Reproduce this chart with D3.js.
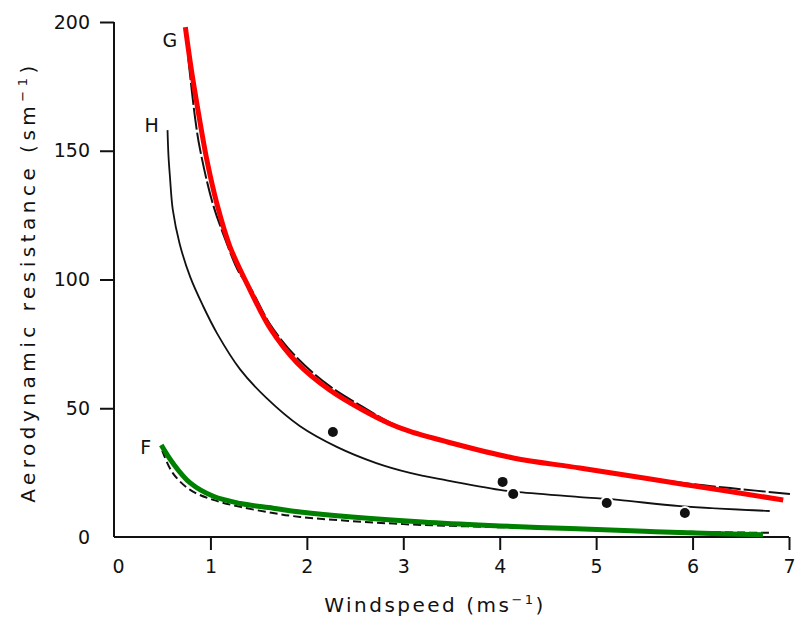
<!DOCTYPE html>
<html>
<head>
<meta charset="utf-8">
<script src="https://cdn.jsdelivr.net/npm/d3@7"></script>
<style>
  body { margin: 0; background: #fff; }
  svg text { font-family: "DejaVu Sans", sans-serif; fill: #111; }
</style>
</head>
<body>
<svg id="chart" width="796" height="625"></svg>
<script>
// Aerodynamic resistance (s m^-1) against windspeed (m s^-1)
const xTicks = [0, 1, 2, 3, 4, 5, 6, 7];
const yTicks = [0, 50, 100, 150, 200];

// Curve G, original black trace
const gBlack = [[0.77,186],[0.84,163],[0.89,151],[1.02,130],[1.15,116],[1.3,102.5],[1.41,97],[1.62,82.5],[1.9,69.5],[2.24,58.5],[2.58,50.5],[2.86,44.5],[3.07,41.3],[3.45,37.2],[4.14,31],[4.83,27],[5.9,21],[6.39,19],[7.01,16.7]];
// Curve G, red overlay
const gRed = [[0.74,198],[0.8,182],[0.87,166],[0.96,147],[1.07,129],[1.2,113],[1.41,96],[1.62,81],[1.9,67.6],[2.24,57],[2.58,49.3],[2.86,44],[3.07,41],[3.45,37],[4.14,30.7],[4.83,26.8],[5.9,20.5],[6.94,14.4]];
// Curve H
const hLine = [[0.555,158],[0.565,148],[0.58,140],[0.61,127],[0.68,114],[0.79,101],[0.92,90],[1.07,79],[1.31,65],[1.58,54],[1.93,43],[2.31,35],[2.72,28.7],[3.07,24.9],[3.45,22],[4.0,18.3],[4.2,17.4],[4.83,15.5],[5.23,14.4],[5.87,12.0],[6.8,10.1]];
// Curve F, black dashed trace
const fDashed = [[0.5,33.5],[0.61,24.8],[0.79,18.3],[1.03,14.4],[1.31,11.7],[1.65,9.3],[1.93,7.8],[3.0,5],[4.0,3.8],[5.0,2.8],[6.0,2],[6.8,1.6]];
// Curve F, green overlay
const fGreen = [[0.49,35.7],[0.61,28.7],[0.79,21],[1.03,15.8],[1.31,13],[1.65,11.2],[1.93,9.7],[3.2,5.8],[4.0,4.3],[4.73,3.3],[5.5,2.2],[6.2,1.4],[6.73,0.9]];
// Measured points
const obs = [[2.27,40.8],[4.03,21.4],[4.14,16.7],[5.11,13.2],[5.92,9.3]];
// Curve labels
const curveLabels = [["G",0.58,193],["H",0.39,160],["F",0.33,35]];

const svg = d3.select("#chart");
const x = d3.scaleLinear().domain([0, 7]).range([114, 789]);
const y = d3.scaleLinear().domain([0, 200]).range([537, 22]);

// Axes
const xAxis = svg.append("g").attr("transform", "translate(0,537)")
  .call(d3.axisBottom(x).tickValues(xTicks).tickSize(13).tickPadding(10).tickFormat(d3.format("d")));
const yAxis = svg.append("g").attr("transform", "translate(114,0)")
  .call(d3.axisLeft(y).tickValues(yTicks).tickSize(14).tickPadding(10).tickFormat(d3.format("d")));
[xAxis, yAxis].forEach(g => {
  g.select(".domain").attr("stroke", "#111").attr("stroke-width", 2);
  g.selectAll(".tick line").attr("stroke", "#111").attr("stroke-width", 2);
  g.selectAll(".tick text").style("font-size", "19px").attr("fill", "#111");
});
xAxis.select(".domain").attr("d", `M${x(0)},0H${x(7)}`);
yAxis.select(".domain").attr("d", `M0,${y(0)}V${y(200)}`);
xAxis.selectAll(".tick").filter(d => d === 0).select("line").remove();
xAxis.selectAll(".tick").filter(d => d === 0).select("text").attr("x", 4);
yAxis.selectAll(".tick").filter(d => d === 0).select("line").remove();

const line = d3.line().x(d => x(d[0])).y(d => y(d[1])).curve(d3.curveCatmullRom.alpha(0.5));

svg.append("path").datum(gBlack).attr("d", line)
  .attr("fill", "none").attr("stroke", "#111").attr("stroke-width", 2).attr("stroke-dasharray", "22,3");
svg.append("path").datum(fDashed).attr("d", line)
  .attr("fill", "none").attr("stroke", "#111").attr("stroke-width", 2).attr("stroke-dasharray", "8,4");
svg.append("path").datum(hLine).attr("d", line)
  .attr("fill", "none").attr("stroke", "#111").attr("stroke-width", 1.8);

svg.append("g").selectAll("circle").data(obs).join("circle")
  .attr("cx", d => x(d[0])).attr("cy", d => y(d[1])).attr("r", 5)
  .attr("fill", "#111").attr("stroke", "#fff").attr("stroke-width", 4).attr("paint-order", "stroke");

svg.append("path").datum(gRed).attr("d", line)
  .attr("fill", "none").attr("stroke", "#ff0000").attr("stroke-width", 5);
svg.append("path").datum(fGreen).attr("d", line)
  .attr("fill", "none").attr("stroke", "#008000").attr("stroke-width", 5);

svg.append("g").selectAll("text").data(curveLabels).join("text")
  .attr("x", d => x(d[1])).attr("y", d => y(d[2])).attr("dy", "0.35em")
  .attr("text-anchor", "middle").style("font-size", "19px").text(d => d[0]);

// Axis titles
const xt = svg.append("text").attr("x", 435).attr("y", 612).attr("text-anchor", "middle")
  .style("font-size", "20px").style("letter-spacing", "2.5px");
xt.append("tspan").text("Windspeed (ms");
xt.append("tspan").attr("dy", -8).style("font-size", "13px").text("−1");
xt.append("tspan").attr("dy", 8).text(")");

const yt = svg.append("text").attr("transform", "translate(35,282) rotate(-90)").attr("text-anchor", "middle")
  .style("font-size", "20px").style("letter-spacing", "4.5px");
yt.append("tspan").text("Aerodynamic  resistance  (sm");
yt.append("tspan").attr("dy", -8).style("font-size", "13px").text("−1");
yt.append("tspan").attr("dy", 8).text(")");
</script>
</body>
</html>
